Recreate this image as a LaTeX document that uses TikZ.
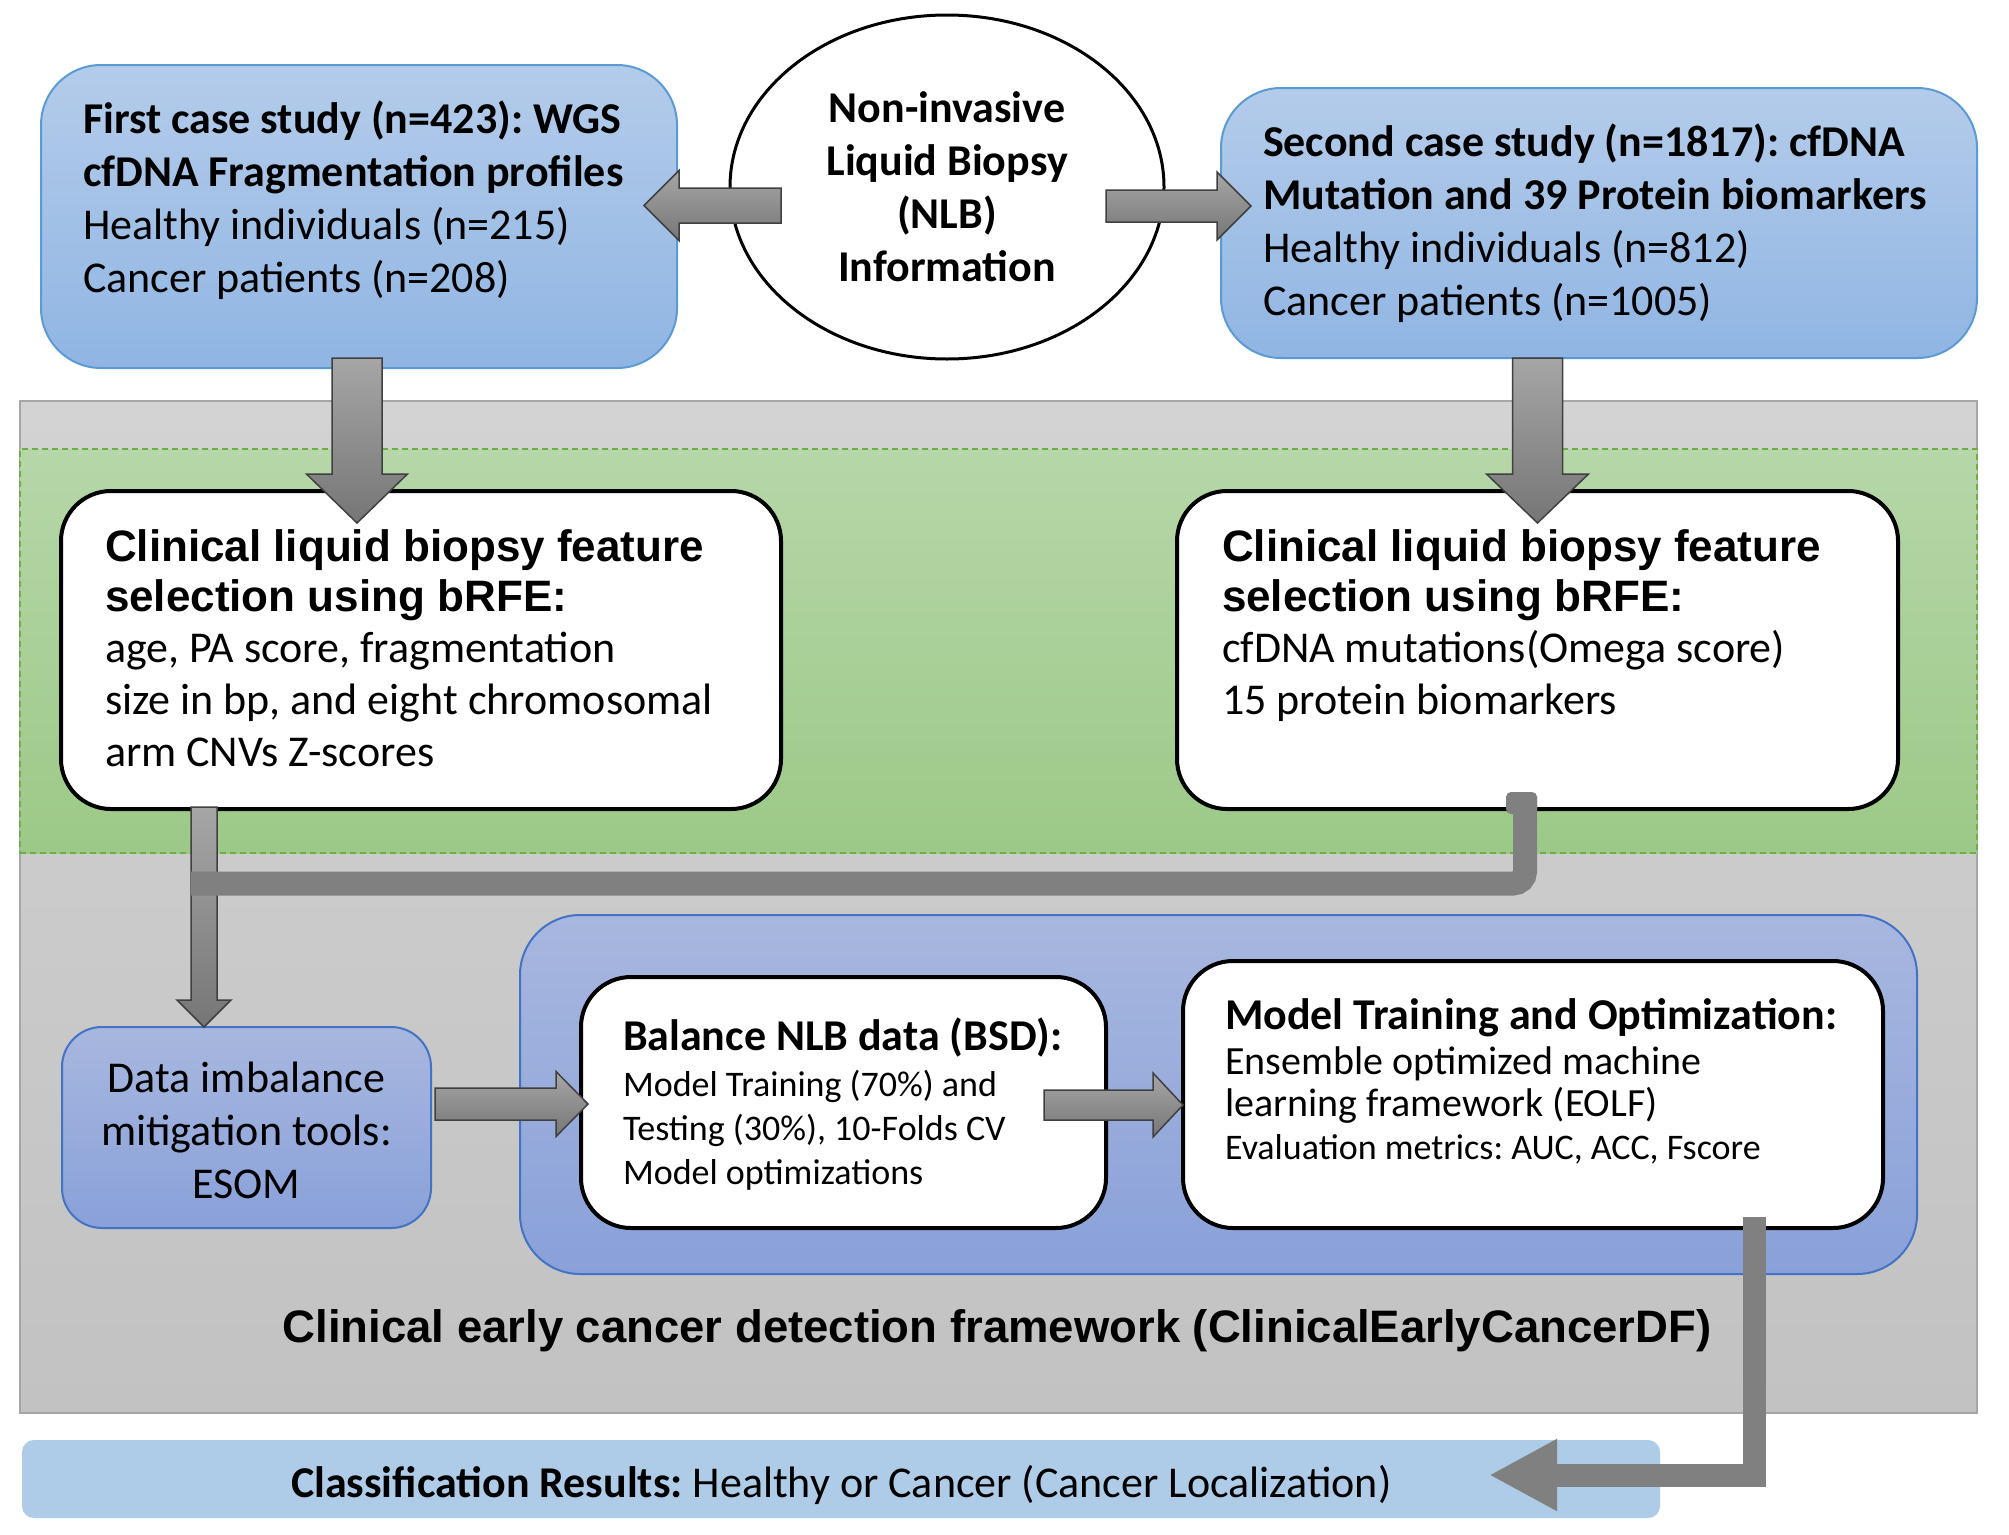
\documentclass[tikz,border=0pt]{standalone}
\usepackage{fontspec}
\setmainfont{Carlito}
\newfontfamily\arialf{Liberation Sans}
\usetikzlibrary{arrows.meta,calc,shapes.geometric}
\frenchspacing

\definecolor{bluetop}{RGB}{180,204,234}
\definecolor{bluebot}{RGB}{144,181,227}
\definecolor{blueline}{RGB}{91,155,213}
\definecolor{graytop}{RGB}{211,211,211}
\definecolor{graybot}{RGB}{194,194,194}
\definecolor{grayline}{RGB}{166,166,166}
\definecolor{greentop}{RGB}{182,215,169}
\definecolor{greenbot}{RGB}{156,201,135}
\definecolor{greenline}{RGB}{112,173,71}
\definecolor{violtop}{RGB}{168,183,223}
\definecolor{violbot}{RGB}{137,161,217}
\definecolor{violline}{RGB}{68,114,196}
\definecolor{arrtop}{RGB}{166,166,166}
\definecolor{arrbot}{RGB}{118,118,118}
\definecolor{arrline}{RGB}{64,64,64}
\definecolor{conn}{RGB}{128,128,128}
\definecolor{resfill}{RGB}{174,203,232}

\newcommand\linesL[2]{\vtop{\baselineskip=#1\lineskiplimit=-1000pt\lineskip=0pt\halign{##\hfil\cr#2\crcr}}}
\newcommand\linesC[2]{\vtop{\baselineskip=#1\lineskiplimit=-1000pt\lineskip=0pt\halign{\hfil##\hfil\cr#2\crcr}}}

% block arrows: #1 tip coordinate, #2 total length, #3 shaft half width, #4 head half width, #5 head length
\newcommand\arrRight[5]{\path[blockarrow] (#1) -- ++(-#5,#4) -- ++(0,#3-#4) -- ++(-#2+#5,0) -- ++(0,-2*#3) -- ++(#2-#5,0) -- ++(0,#3-#4) -- cycle;}
\newcommand\arrLeft[5]{\path[blockarrow] (#1) -- ++(#5,#4) -- ++(0,#3-#4) -- ++(#2-#5,0) -- ++(0,-2*#3) -- ++(-#2+#5,0) -- ++(0,#3-#4) -- cycle;}
\newcommand\arrDown[5]{\path[blockarrow] (#1) -- ++(#4,-#5) -- ++(#3-#4,0) -- ++(0,-#2+#5) -- ++(-2*#3,0) -- ++(0,#2-#5) -- ++(#3-#4,0) -- cycle;}

\begin{document}
\begin{tikzpicture}[x=1pt,y=-1pt,
  region/.style={rectangle, top color=graytop, bottom color=graybot, draw=grayline, line width=2pt, inner sep=0},
  greenreg/.style={rectangle, top color=greentop, bottom color=greenbot, draw=greenline, line width=1.5pt, dash pattern=on 6pt off 4pt, inner sep=0},
  studybox/.style={rectangle, rounded corners=60pt, top color=bluetop, bottom color=bluebot, draw=blueline, line width=2pt, inner sep=0},
  whitebox/.style={rectangle, rounded corners=50pt, fill=white, draw=black, line width=4pt, inner sep=0},
  violbox/.style={rectangle, top color=violtop, bottom color=violbot, draw=violline, line width=2pt, inner sep=0},
  blockarrow/.style={top color=arrtop, bottom color=arrbot, draw=arrline, line width=1.5pt, line join=miter},
  connline/.style={draw=conn, line width=24pt},
  txt/.style={inner sep=0, outer sep=0},
  cal/.style={font=\fontsize{44}{53}\selectfont},
  arb/.style={font=\arialf\bfseries\fontsize{44}{51}\selectfont}
]
\useasboundingbox (0,0) rectangle (2009,1534);
\fill[white] (0,0) rectangle (2009,1534);

% regions
\node[region, minimum width=1957pt, minimum height=1012pt] (frame) at (998.5,907) {};
\node[greenreg, minimum width=1957pt, minimum height=404pt] (featzone) at (998.5,651) {};

% boxes
\node[studybox, minimum width=636pt, minimum height=303pt] (study1) at (359,216.5) {};
\node[ellipse, draw=black, line width=3pt, fill=white, minimum width=434pt, minimum height=344pt, inner sep=0] (nlb) at (947,187) {};
\node[studybox, minimum width=756pt, minimum height=270pt] (study2) at (1599,223) {};
\node[whitebox, minimum width=720pt, minimum height=318pt] (feat1) at (421,650) {};
\node[whitebox, minimum width=721pt, minimum height=318pt] (feat2) at (1537.5,650) {};
\node[violbox, rounded corners=60pt, minimum width=1397pt, minimum height=359pt] (pipeline) at (1218.5,1094.5) {};
\node[violbox, rounded corners=40pt, minimum width=369pt, minimum height=201pt] (esom) at (246.5,1127.5) {};
\node[whitebox, minimum width=525pt, minimum height=251pt] (bsd) at (843.5,1102.5) {};
\node[whitebox, minimum width=700pt, minimum height=267pt] (eolf) at (1533,1094.5) {};
\node[fill=resfill, rounded corners=12pt, minimum width=1638pt, minimum height=78pt, inner sep=0] (result) at (841,1479) {};

% texts
\node[txt, cal, anchor=base west] (study1text) at (83,133)
  {\linesL{53pt}{\bfseries First case study (n=423): WGS\cr\bfseries cfDNA Fragmentation profiles\cr Healthy individuals (n=215)\cr Cancer patients (n=208)}};
\node[txt, cal, anchor=base] (nlbtext) at (947,122)
  {\linesC{53pt}{\bfseries Non-invasive\cr\bfseries Liquid Biopsy\cr\bfseries (NLB)\cr\bfseries Information}};
\node[txt, cal, anchor=base west] (study2text) at (1263,156)
  {\linesL{53pt}{\bfseries Second case study (n=1817): cfDNA\cr\bfseries Mutation and 39 Protein biomarkers\cr Healthy individuals (n=812)\cr Cancer patients (n=1005)}};
\node[txt, arb, anchor=base west] (feat1title) at (105,561)
  {\linesL{50pt}{Clinical liquid biopsy feature\cr selection using bRFE:}};
\node[txt, cal, anchor=base west] (feat1text) at (105,662)
  {\linesL{52pt}{age, PA score, fragmentation\cr size in bp, and eight chromosomal\cr arm CNVs Z-scores}};
\node[txt, arb, anchor=base west] (feat2title) at (1222,561)
  {\linesL{50pt}{Clinical liquid biopsy feature\cr selection using bRFE:}};
\node[txt, cal, anchor=base west] (feat2text) at (1222,662)
  {\linesL{52pt}{cfDNA mutations(Omega score)\cr 15 protein biomarkers}};
\node[txt, cal, anchor=base] (esomtext) at (246.5,1092)
  {\linesC{53pt}{Data imbalance\cr mitigation tools:\cr ESOM}};
\node[txt, font=\bfseries\fontsize{44}{53}\selectfont, anchor=base west] (bsdtitle) at (623,1050)
  {Balance NLB data (BSD):};
\node[txt, font=\fontsize{36}{44}\selectfont, anchor=base west] (bsdtext) at (623,1096)
  {\linesL{44pt}{Model Training (70\%) and\cr Testing (30\%), 10-Folds CV\cr Model optimizations}};
\node[txt, font=\bfseries\fontsize{44}{53}\selectfont, anchor=base west] (eolftitle) at (1225,1029)
  {Model Training and Optimization:};
\node[txt, font=\fontsize{40}{43}\selectfont, anchor=base west] (eolftext) at (1225,1074)
  {\linesL{42pt}{Ensemble optimized machine\cr learning framework (EOLF)}};
\node[txt, font=\fontsize{36}{43}\selectfont, anchor=base west] (eolfmetrics) at (1225,1159)
  {Evaluation metrics: AUC, ACC, Fscore};
\node[txt, font=\arialf\bfseries\fontsize{45.5}{50}\selectfont, anchor=base] (frametitle) at (997,1342)
  {Clinical early cancer detection framework (ClinicalEarlyCancerDF)};
\node[txt, cal, anchor=base west] (resulttext) at (291,1497)
  {\textbf{Classification Results:} Healthy or Cancer (Cancer Localization)};

% connector coordinates
\coordinate (a1tip) at (644,205.5);
\coordinate (a2tip) at (1251,206);
\coordinate (a3tip) at (357,523);
\coordinate (a4tip) at (1537.5,523);
\coordinate (a5tip) at (204,1027);
\coordinate (a6tip) at (588,1104);
\coordinate (a7tip) at (1183,1105);
\coordinate (c1start) at (1525,796);
\coordinate (c1corner) at (1525,883.5);
\coordinate (c1end) at (191,883.5);
\coordinate (c2start) at (1754.5,1217);
\coordinate (c2tip) at (1489,1475);

% block arrows
\arrLeft{a1tip}{137}{17.5}{35}{35}
\arrRight{a2tip}{145}{16}{34}{34}
\arrDown{a3tip}{165}{25}{50.5}{49}
\arrDown{a4tip}{165}{25}{51}{49}
\arrDown{a5tip}{220}{13}{27}{27}
\arrRight{a6tip}{153}{16}{32.5}{32}
\arrRight{a7tip}{139}{15}{32}{30}

% flat connectors
\fill[conn, rounded corners=5pt] (1506,792) rectangle (1537,814);
\draw[connline, rounded corners=12pt] (c1start) -- (c1corner) -- (c1end);
\draw[connline, line width=23pt, -{Triangle[length=68pt,width=67pt]}] (c2start) |- (c2tip);
\end{tikzpicture}
\end{document}
